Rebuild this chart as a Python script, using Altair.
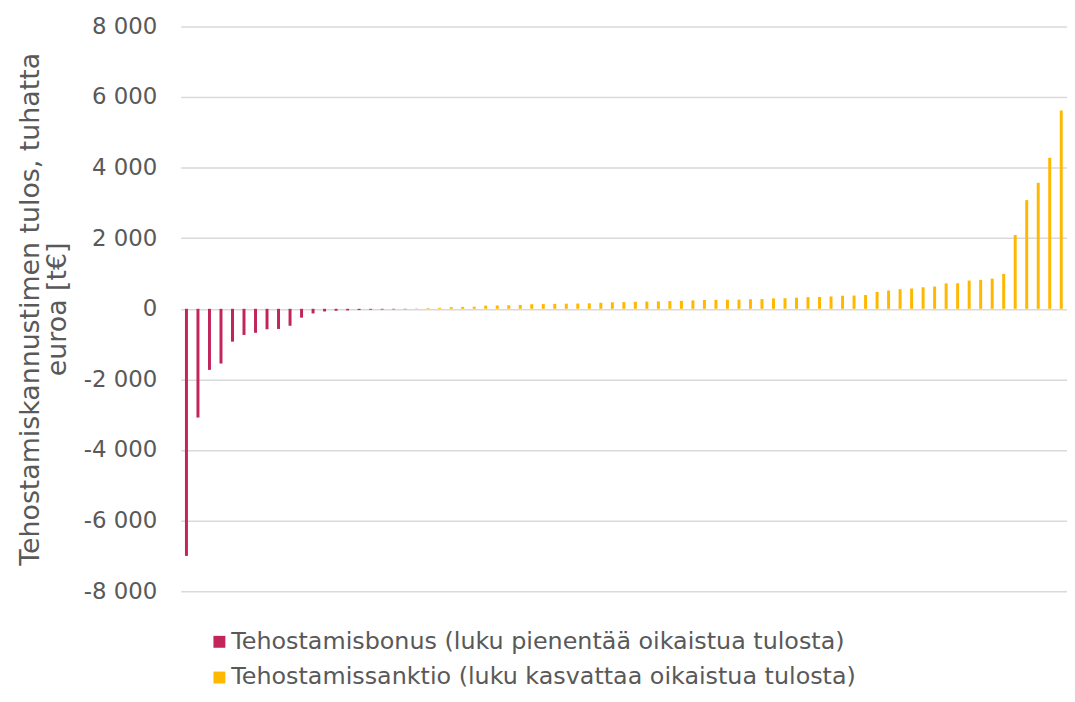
import altair as alt
import pandas as pd

bonus = [-7000, -3080, -1730, -1550, -930, -740, -680, -580, -570, -480,
         -250, -130, -75, -55, -45, -35, -25, -20, -15, -10, -5]
sanktio = [20, 30, 50, 55, 60, 90, 95, 100, 110, 130, 135, 140, 145, 150,
           155, 170, 185, 190, 200, 205, 210, 220, 225, 240, 250, 255, 258, 260,
           270, 275, 295, 300, 315, 330, 335, 350, 370, 375, 390, 480, 520, 555,
           575, 610, 630, 720, 725, 800, 820, 855, 990, 2090, 3080, 3570, 4280, 5620]
series_names = ["Tehostamisbonus (luku pienentää oikaistua tulosta)",
                "Tehostamissanktio (luku kasvattaa oikaistua tulosta)"]
series_colors = ["#C2255C", "#FFB800"]
y_ticks = [-8000, -6000, -4000, -2000, 0, 2000, 4000, 6000, 8000]
y_title = ["Tehostamiskannustimen tulos, tuhatta", "euroa [t€]"]

rows = []
for v in bonus:
    rows.append({"i": len(rows), "value": v, "series": series_names[0]})
for v in sanktio:
    rows.append({"i": len(rows), "value": v, "series": series_names[1]})
df = pd.DataFrame(rows)

txt = "#595959"
font = "DejaVu Sans"

chart = alt.Chart(df).mark_bar(size=3).encode(
    x=alt.X("i:O", axis=None, scale=alt.Scale(paddingInner=0, paddingOuter=0)),
    y=alt.Y("value:Q",
            scale=alt.Scale(domain=[-8000, 8000], nice=False),
            axis=alt.Axis(values=y_ticks, title=y_title, domain=False, ticks=False,
                          labelExpr="(datum.value < 0 ? '-' : '') + replace(format(abs(datum.value), ','), ',', ' ')",
                          labelFontSize=23, labelColor=txt, labelFont=font, labelPadding=24,
                          titleFontSize=27, titleColor=txt, titleFont=font,
                          titleFontWeight="normal", titleLineHeight=27, titlePadding=12,
                          gridColor="#D9D9D9", gridWidth=1.5)),
    color=alt.Color("series:N",
                    scale=alt.Scale(domain=series_names, range=series_colors),
                    legend=alt.Legend(title=None, orient="none", legendX=27, legendY=608,
                                      direction="vertical", symbolType="square",
                                      symbolSize=144, symbolStrokeWidth=0,
                                      labelFontSize=24, labelColor=txt, labelFont=font,
                                      labelOffset=0, rowPadding=12, padding=0,
                                      labelLimit=1000)),
).properties(
    width=893, height=569,
    autosize=alt.AutoSizeParams(type="none"),
    padding={"left": 174, "top": 16, "right": 0, "bottom": 101},
).configure_view(stroke=None)

chart.save("out.html", embed_options={"renderer": "svg", "actions": False})
